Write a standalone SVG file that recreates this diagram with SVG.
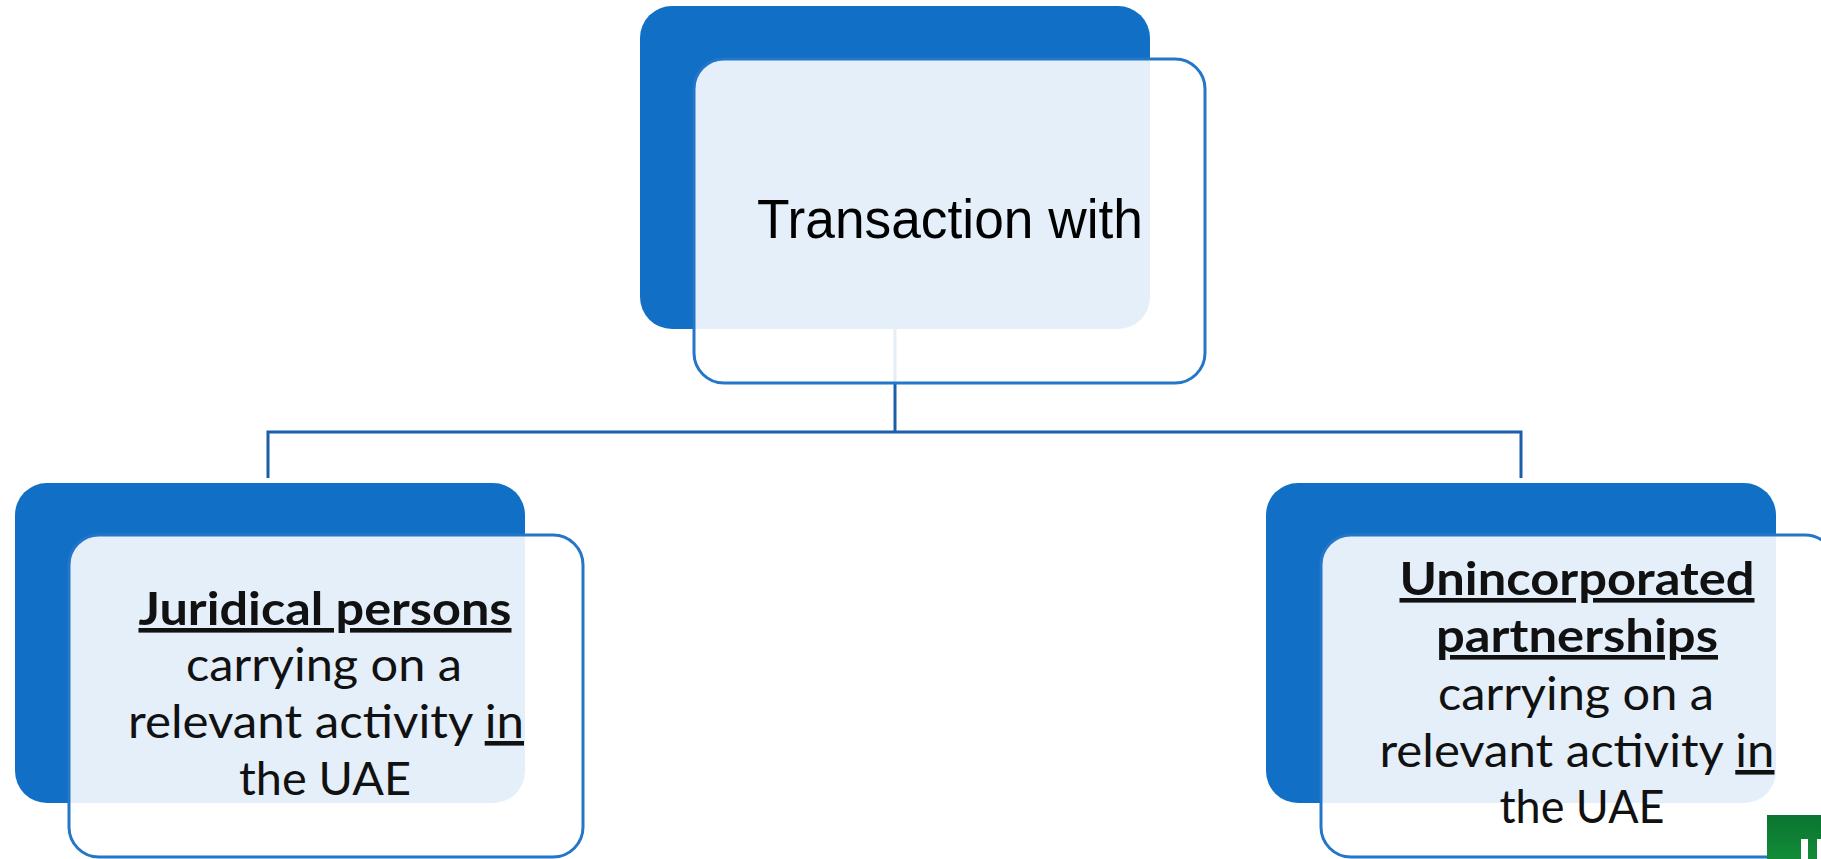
<svg xmlns="http://www.w3.org/2000/svg" width="1821" height="859" viewBox="0 0 1821 859">
  <defs>
    <style>
      .back { fill: #1170C6; }
      .front { fill: #FFFFFF; fill-opacity: 0.89; stroke: #2476C8; stroke-width: 3; }
      .conn { fill: none; stroke: #1A5FA8; stroke-width: 3; }
      .title { font-family: "Liberation Sans", Arial, sans-serif; font-size: 56px; fill: #000000; }
      .body { font-family: Lato, "Open Sans", sans-serif; font-size: 46px; fill: #111111; text-anchor: middle; }
      .strong { font-weight: bold; text-decoration: underline; }
      .ul { text-decoration: underline; }
    </style>
    <linearGradient id="badgeFill" x1="0" y1="0" x2="0" y2="1">
      <stop offset="0" stop-color="#0A7430"/>
      <stop offset="1" stop-color="#128C38"/>
    </linearGradient>
  </defs>

  <rect width="1821" height="859" fill="#FFFFFF"/>

  <!-- tree connectors -->
  <g id="connectors">
    <path class="conn" d="M895 329 V432"/>
    <path class="conn" d="M268 478 V432 H1521 V478"/>
  </g>

  <!-- root -->
  <g id="node-transaction">
    <rect class="back" x="640" y="6" width="510" height="323" rx="32"/>
    <rect class="front" x="694" y="59" width="511" height="324" rx="30"/>
    <text class="title" x="757" y="238" textLength="386" lengthAdjust="spacingAndGlyphs">Transaction with</text>
  </g>

  <!-- left child -->
  <g id="node-juridical">
    <rect class="back" x="15" y="483" width="510" height="320" rx="32"/>
    <rect class="front" x="69" y="535" width="514" height="322" rx="30"/>
    <text class="body strong" x="325" y="625" textLength="373" lengthAdjust="spacingAndGlyphs">Juridical persons</text>
    <text class="body" x="324" y="681" textLength="276" lengthAdjust="spacingAndGlyphs">carrying on a</text>
    <text class="body" x="326" y="738" textLength="396" lengthAdjust="spacingAndGlyphs">relevant activity <tspan class="ul">in</tspan></text>
    <text class="body" x="325" y="795" textLength="172" lengthAdjust="spacingAndGlyphs">the UAE</text>
  </g>

  <!-- right child -->
  <g id="node-partnerships">
    <rect class="back" x="1266" y="483" width="510" height="320" rx="32"/>
    <rect class="front" x="1321" y="535" width="514" height="322" rx="30"/>
    <text class="body strong" x="1577" y="595" textLength="355" lengthAdjust="spacingAndGlyphs">Unincorporated</text>
    <text class="body strong" x="1577" y="652" textLength="282" lengthAdjust="spacingAndGlyphs">partnerships</text>
    <text class="body" x="1576" y="710" textLength="276" lengthAdjust="spacingAndGlyphs">carrying on a</text>
    <text class="body" x="1577" y="767" textLength="395" lengthAdjust="spacingAndGlyphs">relevant activity <tspan class="ul">in</tspan></text>
    <text class="body" x="1582" y="823" textLength="165" lengthAdjust="spacingAndGlyphs">the UAE</text>
  </g>

  <!-- corner badge -->
  <g id="badge">
    <rect x="1767" y="815" width="54" height="44" fill="url(#badgeFill)"/>
    <rect x="1801" y="839" width="7" height="20" fill="#FFFFFF"/>
    <rect x="1817" y="839" width="4" height="20" fill="#FFFFFF"/>
  </g>
</svg>
